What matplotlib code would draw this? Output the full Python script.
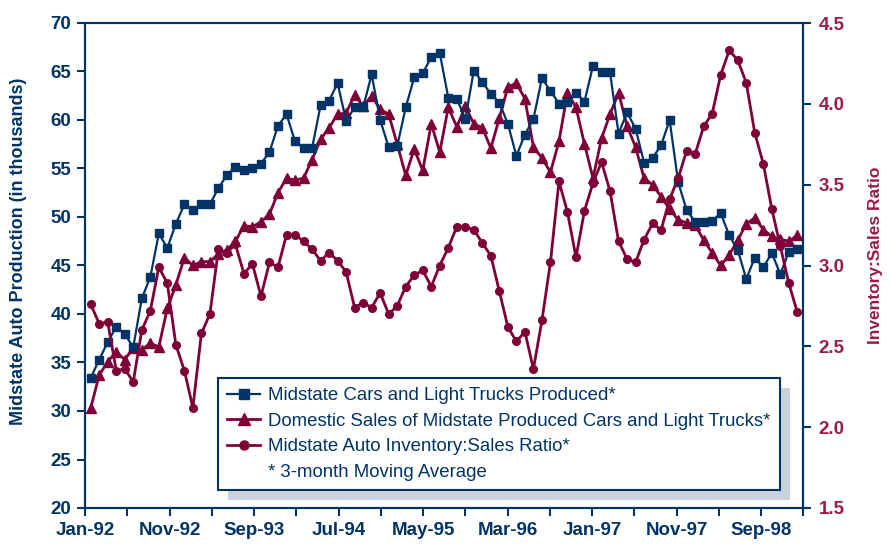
import matplotlib.pyplot as plt
from matplotlib.lines import Line2D
from matplotlib.patches import Rectangle
import numpy as np

plt.rcParams['font.family'] = ['Liberation Sans Narrow', 'Liberation Sans', 'DejaVu Sans']

# monthly values, Jan-92 .. Dec-98 (3-month moving averages)
cars_produced = [33.4, 35.3, 37.1, 38.7, 37.9, 36.6, 41.6, 43.8, 48.3, 46.8,
                 49.3, 51.3, 50.7, 51.3, 51.3, 53.0, 54.3, 55.2, 54.8, 55.1,
                 55.5, 56.7, 59.4, 60.6, 57.8, 57.1, 57.1, 61.5, 62.0, 63.8,
                 59.9, 61.3, 61.3, 64.7, 60.0, 57.2, 57.3, 61.3, 64.4, 64.8,
                 66.5, 66.9, 62.3, 62.2, 60.1, 65.1, 63.9, 62.7, 61.8, 59.6,
                 56.3, 58.5, 60.1, 64.3, 63.0, 61.7, 61.9, 62.8, 61.9, 65.6,
                 64.9, 64.9, 58.6, 60.8, 59.1, 55.6, 56.1, 57.4, 60.0, 53.6,
                 50.7, 49.5, 49.5, 49.6, 50.4, 48.1, 46.6, 43.6, 45.8, 44.8,
                 46.3, 44.1, 46.4, 46.7]

domestic_sales = [30.3, 33.7, 35.1, 36.1, 35.3, 36.5, 36.3, 37.0, 36.6, 40.6,
                  43.0, 45.8, 45.0, 45.4, 45.4, 46.2, 46.6, 47.5, 49.1, 49.0,
                  49.5, 50.3, 52.5, 54.0, 53.8, 54.0, 55.9, 58.0, 59.2, 60.6,
                  60.7, 62.6, 61.4, 62.5, 61.1, 60.6, 57.5, 54.3, 57.0, 54.8,
                  59.6, 56.7, 61.3, 59.3, 61.4, 59.6, 59.2, 57.1, 60.2, 63.4,
                  63.8, 62.2, 57.2, 56.1, 54.6, 57.8, 62.8, 61.3, 57.5, 54.0,
                  58.1, 60.6, 62.8, 59.4, 57.2, 54.0, 53.3, 52.1, 50.8, 49.7,
                  49.4, 49.2, 47.6, 46.3, 45.0, 46.1, 47.6, 49.3, 49.9, 48.7,
                  48.0, 47.7, 47.5, 48.1]

inv_sales_ratio = [2.76, 2.64, 2.65, 2.35, 2.36, 2.28, 2.60, 2.72, 2.99, 2.89,
                   2.51, 2.35, 2.12, 2.58, 2.70, 3.10, 3.08, 3.13, 2.95, 3.01,
                   2.81, 3.02, 2.99, 3.19, 3.19, 3.15, 3.10, 3.03, 3.08, 3.03,
                   2.96, 2.74, 2.77, 2.74, 2.83, 2.70, 2.75, 2.87, 2.94, 2.97,
                   2.87, 3.00, 3.11, 3.24, 3.24, 3.22, 3.14, 3.06, 2.84, 2.62,
                   2.53, 2.59, 2.36, 2.66, 3.02, 3.52, 3.33, 3.05, 3.34, 3.51,
                   3.64, 3.46, 3.15, 3.04, 3.02, 3.16, 3.26, 3.22, 3.41, 3.54,
                   3.71, 3.69, 3.86, 3.94, 4.18, 4.33, 4.27, 4.13, 3.82, 3.63,
                   3.35, 3.12, 2.89, 2.71]

month_labels = ['Jan-92', 'Nov-92', 'Sep-93', 'Jul-94', 'May-95',
                'Mar-96', 'Jan-97', 'Nov-97', 'Sep-98']

NAVY = '#003366'
MAROON = '#7F0038'
MAROON_TXT = '#9A1C48'
SHADOW = '#C9D3DF'

x = np.arange(len(cars_produced))

fig = plt.figure(figsize=(8.9, 5.47), dpi=100)
ax = fig.add_axes([85 / 890, 1 - 508 / 547, (803.3 - 85) / 890, (508 - 23) / 547])
ax2 = ax.twinx()

ax.plot(x, cars_produced, color=NAVY, lw=1.6, marker='s', ms=5.8, zorder=3)
ax.plot(x, domestic_sales, color=MAROON, lw=2.0, marker='^', ms=7, zorder=2)
ax2.plot(x, inv_sales_ratio, color=MAROON, lw=2.0, marker='o', ms=5.5)

xmin, xmax = -0.67, 83.7
ax.set_xlim(xmin, xmax)
ticks = np.linspace(xmin, xmax, 18)
ax.set_xticks(ticks)
ax.set_xticklabels([month_labels[i // 2] if i % 2 == 0 else '' for i in range(18)])

ax.set_ylim(20, 70)
ax.set_yticks(np.arange(20, 71, 5))
ax2.set_ylim(1.5, 4.5)
ax2.set_yticks(np.arange(1.5, 4.51, 0.5))
ax2.set_yticklabels(['%.1f' % v for v in np.arange(1.5, 4.51, 0.5)])

for a in (ax, ax2):
    for s in a.spines.values():
        s.set_color(NAVY)
        s.set_linewidth(1.5)

ax.tick_params(axis='both', direction='out', length=6, width=1.5, color=NAVY,
               labelcolor=NAVY, labelsize=13.5, pad=4)
ax2.tick_params(axis='y', direction='out', length=6, width=1.5, color=NAVY,
                labelcolor=MAROON_TXT, labelsize=13.5, pad=5)
for lab in ax.get_xticklabels() + ax.get_yticklabels() + ax2.get_yticklabels():
    lab.set_fontweight('bold')

ax.set_ylabel('Midstate Auto Production (in thousands)', color=NAVY,
              fontsize=13, fontweight='bold')
ax.yaxis.set_label_coords(-0.081, 0.53)
ax2.set_ylabel('Inventory:Sales Ratio', color=MAROON_TXT, fontsize=12.5,
               fontweight='bold')
ax2.yaxis.set_label_coords(1.09, 0.52)

handles = [
    Line2D([], [], color=NAVY, lw=1.6, marker='s', ms=6.5),
    Line2D([], [], color=MAROON, lw=2.0, marker='^', ms=8),
    Line2D([], [], color=MAROON, lw=2.0, marker='o', ms=6.5),
    Line2D([], [], color='none'),
]
labels = ['Midstate Cars and Light Trucks Produced*',
          'Domestic Sales of Midstate Produced Cars and Light Trucks*',
          'Midstate Auto Inventory:Sales Ratio*',
          '* 3-month Moving Average']
leg = ax2.legend(handles, labels, loc='upper left',
                 bbox_to_anchor=(218 / 890, 1 - 378 / 547),
                 bbox_transform=fig.transFigure, borderaxespad=0,
                 fontsize=13.45, labelcolor=NAVY, frameon=True, fancybox=False,
                 framealpha=1, edgecolor=NAVY, handlelength=1.75,
                 handletextpad=0.45, labelspacing=0.45, borderpad=0.5)
leg.get_frame().set_linewidth(1.5)

fig.canvas.draw()
bb = leg.get_window_extent().transformed(fig.transFigure.inverted())
dx, dy = 10 / 890, 10 / 547
shadow = Rectangle((bb.x0 + dx, bb.y0 - dy), bb.width, bb.height,
                   transform=fig.transFigure, facecolor=SHADOW,
                   edgecolor='none', zorder=4.5, clip_on=False)
ax2.add_patch(shadow)

fig.savefig('out.png', dpi=100)
